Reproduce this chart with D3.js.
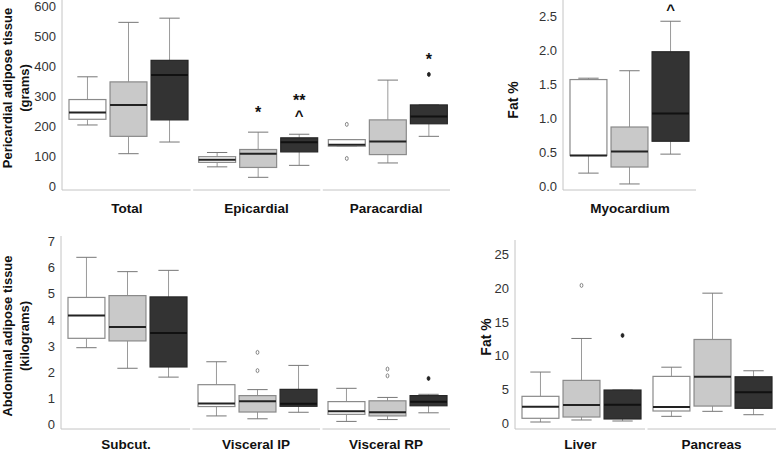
<!DOCTYPE html>
<html>
<head>
<meta charset="utf-8">
<script src="https://cdn.jsdelivr.net/npm/d3@7/dist/d3.min.js"></script>
<style>
  body { margin: 0; background: #fff; }
  text { font-family: "Liberation Sans", Arial, Helvetica, sans-serif; }
</style>
</head>
<body>
<svg id="chart" width="777" height="451"></svg>
<script>
// three groups, drawn white / light grey / dark grey
const groups = ['g1', 'g2', 'g3'];

// box stats: [low whisker, q1, median, q3, high whisker]
const pericardialCats = ['Total', 'Epicardial', 'Paracardial'];
const pericardialStats = [
  [[204, 223, 246, 289, 365], [108, 166, 271, 348, 547], [147, 221, 371, 420, 561]],
  [[64, 79, 88, 98, 112], [29, 62, 108, 122, 180], [69, 114, 146, 161, 173]],
  [[133, 133, 138, 155, 155], [77, 105, 149, 221, 354], [166, 208, 232, 271, 271]]
];
const pericardialOutliers = [['Paracardial', 'g1', 206], ['Paracardial', 'g1', 92], ['Paracardial', 'g3', 373]];
const pericardialMarks = [['Epicardial', 'g2', 240, '*'], ['Epicardial', 'g3', 283, '**'], ['Epicardial', 'g3', 230, '^'], ['Paracardial', 'g3', 420, '*']];
const pericardialTicks = [0, 100, 200, 300, 400, 500, 600];

const myoCats = ['Myocardium'];
const myoStats = [
  [[0.19, 0.45, 0.45, 1.57, 1.59], [0.03, 0.28, 0.51, 0.87, 1.70], [0.47, 0.66, 1.07, 1.98, 2.43]]
];
const myoOutliers = [];
const myoMarks = [['Myocardium', 'g3', 2.58, '^']];
const myoTicks = [0, 0.5, 1.0, 1.5, 2.0, 2.5];

const abdominalCats = ['Subcut.', 'Visceral IP', 'Visceral RP'];
const abdominalStats = [
  [[2.93, 3.29, 4.17, 4.86, 6.40], [2.14, 3.19, 3.72, 4.93, 5.85], [1.80, 2.19, 3.49, 4.88, 5.90]],
  [[0.31, 0.67, 0.79, 1.51, 2.39], [0.20, 0.46, 0.87, 1.09, 1.32], [0.45, 0.68, 0.78, 1.33, 2.25]],
  [[0.10, 0.37, 0.49, 0.86, 1.37], [0.17, 0.31, 0.45, 0.89, 1.02], [0.43, 0.70, 0.85, 1.09, 1.14]]
];
const abdominalOutliers = [['Visceral IP', 'g2', 2.75], ['Visceral IP', 'g2', 2.05], ['Visceral RP', 'g2', 2.11], ['Visceral RP', 'g2', 1.85], ['Visceral RP', 'g3', 1.75]];
const abdominalMarks = [];
const abdominalTicks = [0, 1, 2, 3, 4, 5, 6, 7];

const organCats = ['Liver', 'Pancreas'];
const organStats = [
  [[0.19, 0.74, 2.45, 3.99, 7.58], [0.49, 0.93, 2.70, 6.35, 12.55], [0.34, 0.64, 2.75, 4.92, 4.92]],
  [[1.03, 1.82, 2.41, 6.94, 8.30], [1.77, 2.55, 6.88, 12.40, 19.25], [1.27, 2.22, 4.58, 6.88, 7.77]]
];
const organOutliers = [['Liver', 'g2', 20.4], ['Liver', 'g3', 13.0]];
const organMarks = [];
const organTicks = [0, 5, 10, 15, 20, 25];

const fills = { g1: '#ffffff', g2: '#c9c9c9', g3: '#333333' };
const strokes = { g1: '#8a8a8a', g2: '#8a8a8a', g3: '#262626' };
const medians = { g1: '#222', g2: '#222', g3: '#111' };

const svg = d3.select('#chart');

function drawPanel(p) {
  const g = svg.append('g');
  const x = d3.scaleBand().domain(p.cats).range([p.x0, p.x1]);
  const inner = d3.scaleBand().domain(groups).range([7, 126]).paddingInner(0.1);
  const y = d3.scaleLinear().domain(p.domain).range([p.y0, p.y1]);
  const bw = inner.bandwidth();
  const cap = bw * 0.55;

  // y axis line and tick labels
  g.append('line').attr('x1', p.x0).attr('x2', p.x0).attr('y1', p.axisTop).attr('y2', p.axisY)
    .attr('stroke', '#c4c4c4').attr('stroke-width', 1);
  const ax = g.append('g').attr('transform', `translate(${p.x0 - 6},0)`)
    .call(d3.axisLeft(y).tickValues(p.ticks).tickSize(0).tickPadding(0).tickFormat(p.fmt));
  ax.select('.domain').remove();
  ax.selectAll('text').attr('font-size', 13).attr('fill', '#333')
    .attr('font-family', '"Liberation Sans", Arial, sans-serif');

  // x axis segments with small gaps between categories
  p.cats.forEach(c => {
    g.append('line').attr('x1', x(c) + (c === p.cats[0] ? 0 : 1.5)).attr('x2', x(c) + x.bandwidth() - 1)
      .attr('y1', p.axisY).attr('y2', p.axisY).attr('stroke', '#c4c4c4').attr('stroke-width', 1);
    g.append('text').attr('x', x(c) + x.bandwidth() / 2).attr('y', p.labelY)
      .attr('text-anchor', 'middle').attr('font-size', 13.5).attr('font-weight', 'bold').attr('fill', '#111')
      .text(c);
  });

  // boxes
  p.cats.forEach((c, ci) => {
    groups.forEach((grp, gi) => {
      const s = p.stats[ci][gi];
      const bx = x(c) + inner(grp);
      const cx = bx + bw / 2;
      const wc = '#9a9a9a';
      g.append('line').attr('x1', cx).attr('x2', cx).attr('y1', y(s[0])).attr('y2', y(s[1])).attr('stroke', wc);
      g.append('line').attr('x1', cx).attr('x2', cx).attr('y1', y(s[3])).attr('y2', y(s[4])).attr('stroke', wc);
      g.append('line').attr('x1', cx - cap / 2).attr('x2', cx + cap / 2).attr('y1', y(s[0])).attr('y2', y(s[0])).attr('stroke', '#777');
      g.append('line').attr('x1', cx - cap / 2).attr('x2', cx + cap / 2).attr('y1', y(s[4])).attr('y2', y(s[4])).attr('stroke', '#777');
      g.append('rect').attr('x', bx).attr('width', bw).attr('y', y(s[3])).attr('height', Math.max(1, y(s[1]) - y(s[3])))
        .attr('fill', fills[grp]).attr('stroke', strokes[grp]).attr('stroke-width', 1.2);
      g.append('line').attr('x1', bx).attr('x2', bx + bw).attr('y1', y(s[2])).attr('y2', y(s[2]))
        .attr('stroke', medians[grp]).attr('stroke-width', 2);
    });
  });

  // outliers
  p.outliers.forEach(([c, grp, v]) => {
    const cx = x(c) + inner(grp) + bw / 2;
    g.append('ellipse').attr('cx', cx).attr('cy', y(v)).attr('rx', 1.4).attr('ry', 2)
      .attr('fill', grp === 'g3' ? '#222' : 'none').attr('stroke', grp === 'g3' ? '#222' : '#777').attr('stroke-width', 0.9);
  });

  // significance marks
  p.marks.forEach(([c, grp, v, t]) => {
    const cx = x(c) + inner(grp) + bw / 2;
    g.append('text').attr('x', cx).attr('y', y(v)).attr('text-anchor', 'middle')
      .attr('dominant-baseline', 'middle').attr('font-size', t === '^' ? 15 : 16).attr('font-weight', 'bold')
      .attr('fill', '#111').text(t);
  });

  // y label
  p.title.forEach((line, i) => {
    g.append('text').attr('transform', `translate(${p.titleX[i]},${p.titleY}) rotate(-90)`)
      .attr('text-anchor', 'middle').attr('font-size', p.titleSize).attr('font-weight', 'bold').attr('fill', '#111')
      .text(line);
  });
}

drawPanel({
  cats: pericardialCats, stats: pericardialStats, outliers: pericardialOutliers, marks: pericardialMarks,
  ticks: pericardialTicks, fmt: d3.format('d'), domain: [0, 600],
  x0: 62, x1: 451, y0: 186, y1: 6.5, axisTop: 0, axisY: 190, labelY: 213,
  title: ['Pericardial adipose tissue', '(grams)'], titleX: [12, 29], titleY: 88, titleSize: 13
});
drawPanel({
  cats: myoCats, stats: myoStats, outliers: myoOutliers, marks: myoMarks,
  ticks: myoTicks, fmt: d3.format('.1f'), domain: [0, 2.5],
  x0: 563, x1: 697, y0: 186, y1: 16.5, axisTop: 0, axisY: 190, labelY: 213,
  title: ['Fat %'], titleX: [518], titleY: 100, titleSize: 14
});
drawPanel({
  cats: abdominalCats, stats: abdominalStats, outliers: abdominalOutliers, marks: abdominalMarks,
  ticks: abdominalTicks, fmt: d3.format('d'), domain: [0, 7],
  x0: 61, x1: 451, y0: 424, y1: 241.7, axisTop: 236, axisY: 429, labelY: 449,
  title: ['Abdominal adipose tissue', '(kilograms)'], titleX: [12, 29], titleY: 336, titleSize: 13
});
drawPanel({
  cats: organCats, stats: organStats, outliers: organOutliers, marks: organMarks,
  ticks: organTicks, fmt: d3.format('d'), domain: [0, 25],
  x0: 515, x1: 777, y0: 423.3, y1: 254.3, axisTop: 240, axisY: 429, labelY: 449,
  title: ['Fat %'], titleX: [491], titleY: 337, titleSize: 14
});
</script>
</body>
</html>
